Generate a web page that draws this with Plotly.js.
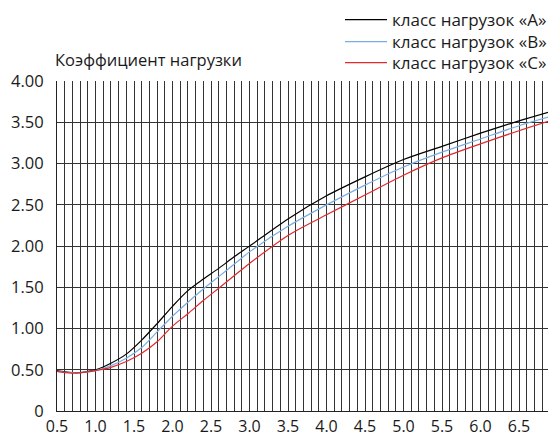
<!DOCTYPE html>
<html>
<head>
<meta charset="utf-8">
<script src="https://cdn.plot.ly/plotly-3.0.1.min.js"></script>
<style>
html,body{margin:0;padding:0;overflow:hidden;background:#fff;}
#chart{width:558px;height:436px;}
</style>
</head>
<body>
<div id="chart"></div>
<script>
// Data
const seriesNames = ['класс нагрузок «А»', 'класс нагрузок «В»', 'класс нагрузок «С»'];

const xVals = [0.5, 0.6, 0.7, 0.8, 0.9, 1.0, 1.2, 1.4, 1.6, 1.8, 2.0, 2.2, 2.4, 2.6, 2.8, 3.0, 3.5, 4.0, 4.5, 5.0, 5.5, 6.0, 6.5, 6.9];
const yA = [0.49, 0.475, 0.465, 0.465, 0.48, 0.50, 0.58, 0.69, 0.86, 1.06, 1.27, 1.46, 1.60, 1.73, 1.87, 2.00, 2.33, 2.61, 2.84, 3.05, 3.21, 3.37, 3.52, 3.63];
const yB = [0.48, 0.47, 0.465, 0.465, 0.475, 0.49, 0.55, 0.64, 0.77, 0.96, 1.15, 1.32, 1.48, 1.63, 1.78, 1.93, 2.24, 2.50, 2.74, 2.96, 3.14, 3.30, 3.46, 3.57];
const yC = [0.48, 0.465, 0.46, 0.465, 0.475, 0.49, 0.53, 0.60, 0.70, 0.84, 1.03, 1.18, 1.34, 1.49, 1.64, 1.79, 2.13, 2.38, 2.62, 2.86, 3.07, 3.24, 3.40, 3.52];

const xTickVals = [0.5, 1.0, 1.5, 2.0, 2.5, 3.0, 3.5, 4.0, 4.5, 5.0, 5.5, 6.0, 6.5];
const xTickText = ['0.5', '1.0', '1.5', '2.0', '2.5', '3.0', '3.5', '4.0', '4.5', '5.0', '5.5', '6.0', '6.5'];
const yTickVals = [0, 0.5, 1.0, 1.5, 2.0, 2.5, 3.0, 3.5, 4.0];
const yTickText = ['0', '0.50', '1.00', '1.50', '2.00', '2.50', '3.00', '3.50', '4.00'];
const yTitle = 'Коэффициент нагрузки';

const colors = ['#000000', '#7aaee0', '#e02a2f'];
const legendIds = ['legend', 'legend2', 'legend3'];
const font = 'Open Sans, Noto Sans, sans-serif';

const traces = [yA, yB, yC].map((ys, i) => ({
  x: xVals, y: ys, type: 'scatter', mode: 'lines', name: seriesNames[i],
  legend: legendIds[i],
  line: {color: colors[i], width: 1.2, shape: 'spline', smoothing: 0.8}
}));

const W = 558, H = 436, ml = 57, mt = 81, mb = 25, mr = 0;
const pw = W - ml - mr, ph = H - mt - mb;
const legendRowsPx = [20, 42, 63];

const layout = {
  width: W, height: H,
  margin: {l: ml, r: mr, t: mt, b: mb},
  paper_bgcolor: '#fff', plot_bgcolor: '#fff',
  font: {family: font, color: '#1a1a1a'},
  showlegend: true,
  title: {
    text: yTitle, font: {family: font, size: 16.5, color: '#1a1a1a'},
    xref: 'container', x: 55 / W, xanchor: 'left',
    yref: 'container', y: 1 - 60 / H, yanchor: 'middle'
  },
  xaxis: {
    range: [0.5, 0.5 + pw / 77], showline: true, linecolor: '#222', linewidth: 1,
    tickvals: xTickVals, ticktext: xTickText, ticks: '', ticklabelstandoff: 1,
    showgrid: true, gridcolor: '#333', gridwidth: 1, zeroline: false,
    minor: {dtick: 0.1, tick0: 0.5, showgrid: true, gridcolor: '#333', gridwidth: 1},
    tickfont: {family: font, size: 16, color: '#1a1a1a'}, fixedrange: true
  },
  yaxis: {
    range: [0, 4.003], showline: true, linecolor: '#222', linewidth: 1,
    tickvals: yTickVals, ticktext: yTickText, ticks: '', ticklabelstandoff: 9,
    showgrid: true, gridcolor: '#333', gridwidth: 1, zeroline: false,
    tickfont: {family: font, size: 16.5, color: '#1a1a1a'}, fixedrange: true
  }
};

legendIds.forEach((id, i) => {
  layout[id] = {
    x: (340 - ml) / pw, xanchor: 'left', xref: 'paper',
    y: ((H - mb) - legendRowsPx[i]) / ph, yanchor: 'middle', yref: 'paper',
    font: {family: font, size: 17, color: '#1a1a1a'},
    bgcolor: 'rgba(0,0,0,0)', borderwidth: 0, itemwidth: 42
  };
});

Plotly.newPlot('chart', traces, layout, {displayModeBar: false, staticPlot: true});
</script>
</body>
</html>
